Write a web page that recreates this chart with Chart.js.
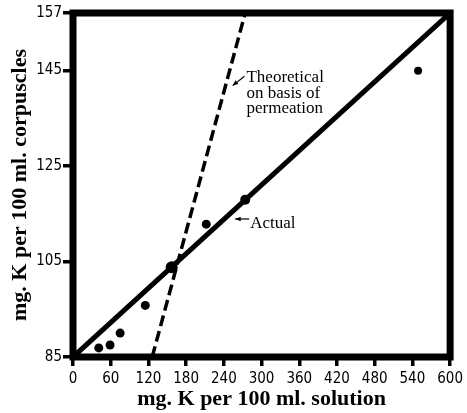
<!DOCTYPE html>
<html>
<head>
<meta charset="utf-8">
<script src="https://cdn.jsdelivr.net/npm/chart.js@4/dist/chart.umd.min.js"></script>
<style>
  html, body { margin: 0; padding: 0; background: #fff; }
  #wrap { width: 467px; height: 413px; position: relative; }
</style>
</head>
<body>
<div id="wrap"><canvas id="chart"></canvas></div>
<script>
// observed points (mg K / 100 ml solution vs corpuscles)
var solutionK = [41, 59, 75, 115, 157, 212, 274, 549];
var corpuscleK = [86.9, 87.5, 90, 95.8, 103.8, 112.8, 117.9, 144.9];
var pointSizes = [4.5, 4.5, 4.5, 4.5, 6, 4.5, 5, 4];

// fitted lines, given by their end points
var actualX = [0, 600];
var actualY = [85, 157];
var theoryX = [126, 274];
var theoryY = [85, 157];

var xTicks = [0, 60, 120, 180, 240, 300, 360, 420, 480, 540, 600];
var yTicks = [85, 105, 125, 145, 157];

function toXY(xs, ys) {
  return xs.map(function (x, i) { return { x: x, y: ys[i] }; });
}

var tickFont = { family: '"Liberation Sans Narrow", "DejaVu Sans Condensed", sans-serif', size: 15, weight: 'normal' };
var titleFont = { family: '"Liberation Serif", "DejaVu Serif", serif', size: 22, weight: 'bold' };
var noteFont = '17px "Liberation Serif", "DejaVu Serif", serif';

var framePlugin = {
  id: 'frame',
  afterDatasetsDraw: function (chart) {
    var a = chart.chartArea;
    var ctx = chart.ctx;
    ctx.save();
    ctx.strokeStyle = '#000';
    ctx.lineWidth = 7;
    ctx.strokeRect(a.left, a.top, a.right - a.left, a.bottom - a.top);
    ctx.restore();
  }
};

function arrow(ctx, x1, y1, x2, y2) {
  var ang = Math.atan2(y2 - y1, x2 - x1);
  ctx.beginPath();
  ctx.moveTo(x1, y1);
  ctx.lineTo(x2, y2);
  ctx.stroke();
  ctx.beginPath();
  ctx.moveTo(x2, y2);
  ctx.lineTo(x2 - 6 * Math.cos(ang - 0.4), y2 - 6 * Math.sin(ang - 0.4));
  ctx.lineTo(x2 - 6 * Math.cos(ang + 0.4), y2 - 6 * Math.sin(ang + 0.4));
  ctx.closePath();
  ctx.fill();
}

var notesPlugin = {
  id: 'notes',
  afterDatasetsDraw: function (chart) {
    var xs = chart.scales.x, ys = chart.scales.y;
    var ctx = chart.ctx;
    ctx.save();
    ctx.fillStyle = '#000';
    ctx.strokeStyle = '#000';
    ctx.lineWidth = 1.2;
    ctx.font = noteFont;
    ctx.textBaseline = 'alphabetic';
    ctx.textAlign = 'left';

    var tx = xs.getPixelForValue(276), ty = ys.getPixelForValue(142.5);
    ctx.fillText('Theoretical', tx, ty);
    ctx.fillText('on basis of', tx, ty + 15.5);
    ctx.fillText('permeation', tx, ty + 31);
    arrow(ctx, tx - 2, ty - 6, xs.getPixelForValue(254), ys.getPixelForValue(141.8));

    var ax = xs.getPixelForValue(282), ay = ys.getPixelForValue(112);
    ctx.fillText('Actual', ax, ay);
    arrow(ctx, ax - 1, ay - 9, xs.getPixelForValue(258), ay - 9);
    ctx.restore();
  }
};

new Chart(document.getElementById('chart'), {
  type: 'scatter',
  data: {
    datasets: [
      {
        label: 'Actual',
        data: toXY(actualX, actualY),
        showLine: true,
        borderColor: '#000',
        borderWidth: 5,
        pointRadius: 0
      },
      {
        label: 'Theoretical',
        data: toXY(theoryX, theoryY),
        showLine: true,
        borderColor: '#000',
        borderWidth: 3.5,
        borderDash: [11, 5],
        pointRadius: 0
      },
      {
        label: 'Observed',
        data: toXY(solutionK, corpuscleK),
        backgroundColor: '#000',
        borderColor: '#000',
        pointRadius: pointSizes,
        pointBorderWidth: 0
      }
    ]
  },
  options: {
    responsive: true,
    maintainAspectRatio: false,
    animation: false,
    layout: { padding: { top: 13, right: 8, left: 0, bottom: 0 } },
    plugins: {
      legend: { display: false },
      tooltip: { enabled: false }
    },
    scales: {
      x: {
        type: 'linear',
        min: 0,
        max: 600,
        afterBuildTicks: function (axis) {
          axis.ticks = xTicks.map(function (v) { return { value: v }; });
        },
        afterFit: function (axis) { axis.height = 56; },
        grid: { drawOnChartArea: false, drawTicks: true, tickLength: 9, lineWidth: 3.5, color: '#000' },
        border: { display: false },
        ticks: { color: '#000', font: tickFont, padding: 4, maxRotation: 0, autoSkip: false },
        title: { display: true, text: 'mg. K per 100 ml. solution', color: '#000', font: titleFont, padding: { top: 0, bottom: 0 } }
      },
      y: {
        type: 'linear',
        min: 85,
        max: 157,
        afterBuildTicks: function (axis) {
          axis.ticks = yTicks.map(function (v) { return { value: v }; });
        },
        afterFit: function (axis) { axis.width = 73; },
        grid: { drawOnChartArea: false, drawTicks: true, tickLength: 10, lineWidth: 3.5, color: '#000' },
        border: { display: false },
        ticks: { color: '#000', font: tickFont, padding: 1, autoSkip: false },
        title: { display: true, text: 'mg. K per 100 ml. corpuscles', color: '#000', font: titleFont, padding: { top: 7, bottom: 0 } }
      }
    }
  },
  plugins: [framePlugin, notesPlugin]
});
</script>
</body>
</html>
